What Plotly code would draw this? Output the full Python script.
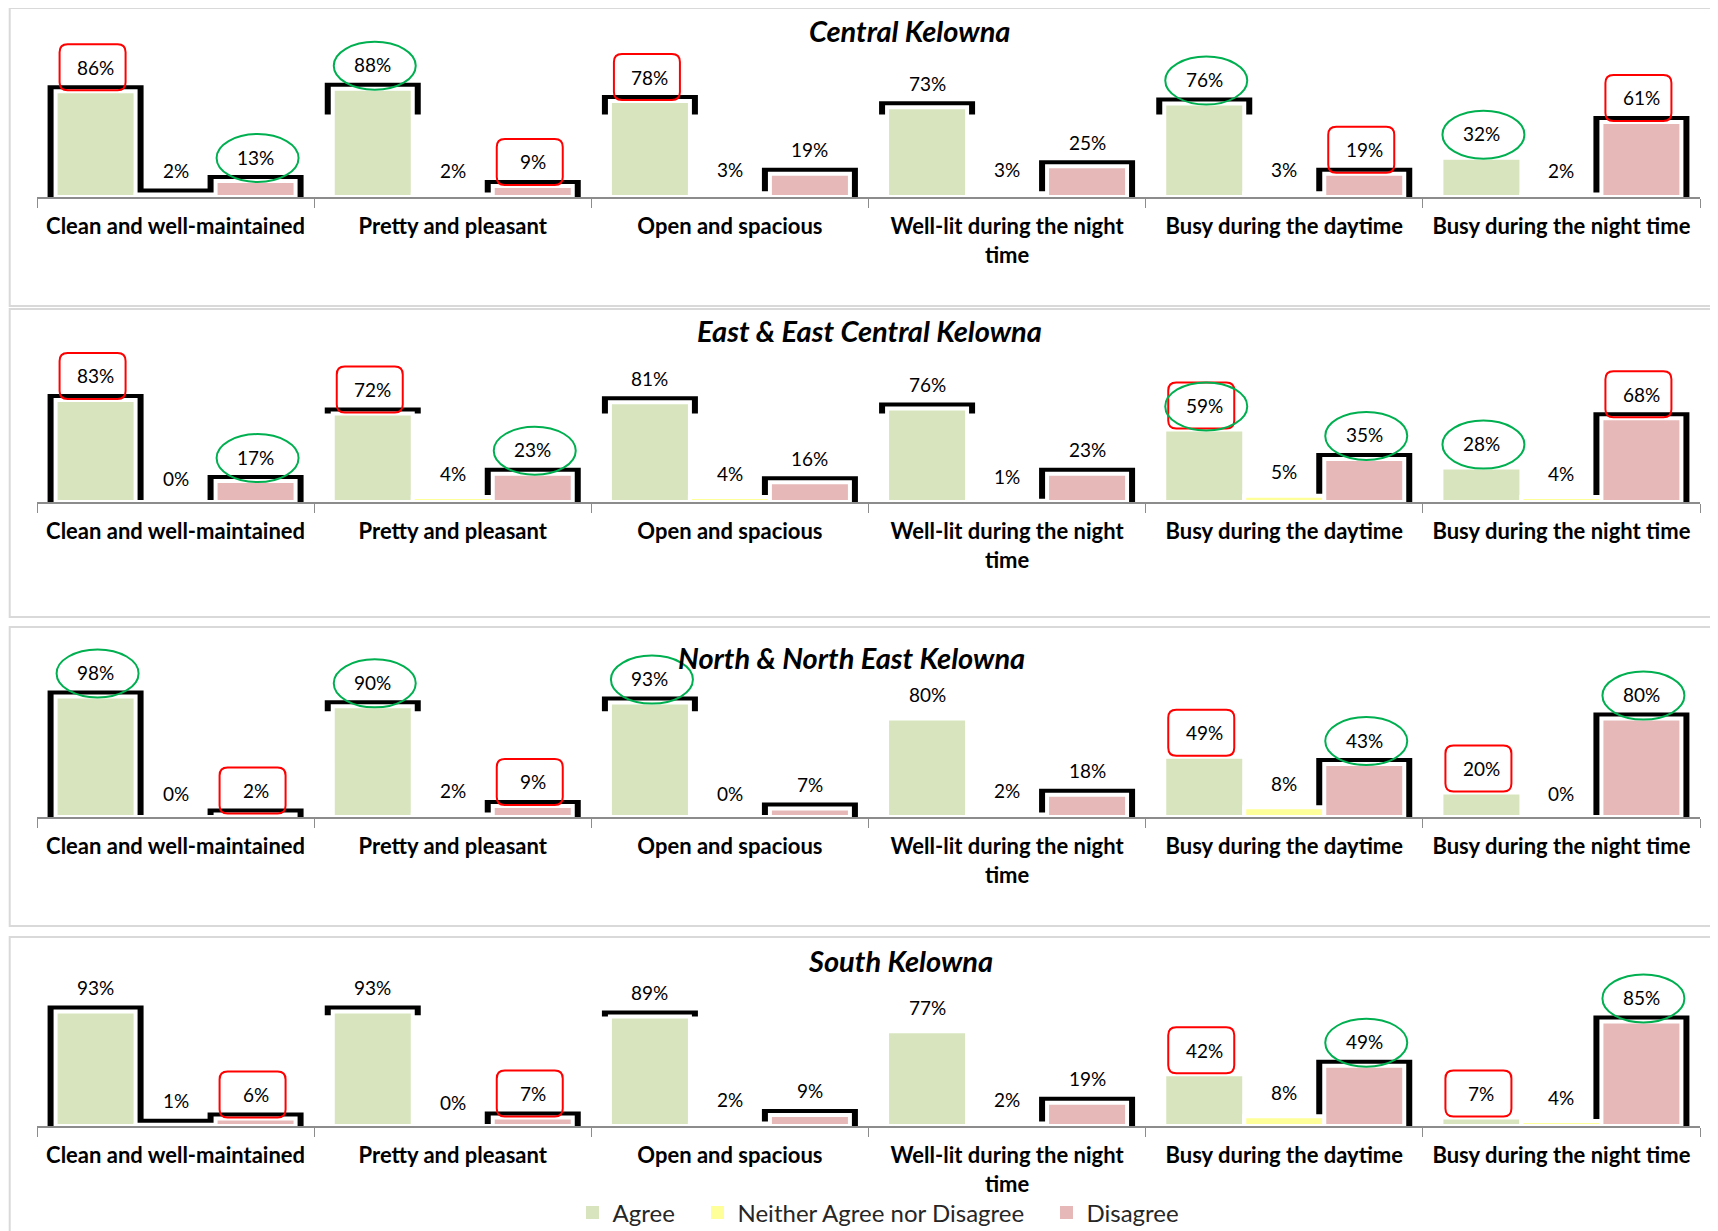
import plotly.graph_objects as go

# ---------------- data ----------------
categories = ["Clean and well-maintained", "Pretty and pleasant", "Open and spacious",
              "Well-lit during the night time", "Busy during the daytime", "Busy during the night time"]
tick_labels = ["Clean and well-maintained", "Pretty and pleasant", "Open and spacious",
               "Well-lit during the night<br>time", "Busy during the daytime", "Busy during the night time"]
regions = ["Central Kelowna", "East & East Central Kelowna", "North & North East Kelowna", "South Kelowna"]
series_names = ["Agree", "Neither Agree nor Disagree", "Disagree"]

central_agree = [86, 88, 78, 73, 76, 32]
central_neither = [2, 2, 3, 3, 3, 2]
central_disagree = [13, 9, 19, 25, 19, 61]

east_agree = [83, 72, 81, 76, 59, 28]
east_neither = [0, 4, 4, 1, 5, 4]
east_disagree = [17, 23, 16, 23, 35, 68]

north_agree = [98, 90, 93, 80, 49, 20]
north_neither = [0, 2, 0, 2, 8, 0]
north_disagree = [2, 9, 7, 18, 43, 80]

south_agree = [93, 93, 89, 77, 42, 7]
south_neither = [1, 0, 2, 2, 8, 4]
south_disagree = [6, 7, 9, 19, 49, 85]

panel_values = [
    [central_agree, central_neither, central_disagree],
    [east_agree, east_neither, east_disagree],
    [north_agree, north_neither, north_disagree],
    [south_agree, south_neither, south_disagree],
]

# hand-drawn highlight marks on the labels: R = red box, E = green ellipse
central_marks = [["R", "E", "R", "", "E", "E"], ["", "", "", "", "", ""], ["E", "R", "", "", "R", "R"]]
east_marks = [["R", "R", "", "", "RE", "E"], ["", "", "", "", "", ""], ["E", "E", "", "", "E", "R"]]
north_marks = [["E", "E", "E", "", "R", "R"], ["", "", "", "", "", ""], ["R", "R", "", "", "E", "E"]]
south_marks = [["", "", "", "", "R", "R"], ["", "", "", "", "", ""], ["R", "R", "", "", "E", "E"]]
panel_marks = [central_marks, east_marks, north_marks, south_marks]

# black frame artefacts around bars: F = full, C = top cap, N = none
central_frames = [["F", "C", "C", "C", "C", "N"], ["F", "N", "N", "N", "N", "N"], ["F", "F", "F", "F", "F", "F"]]
east_frames = [["F", "C", "C", "C", "N", "N"], ["N", "N", "N", "N", "N", "N"], ["F", "F", "F", "F", "F", "F"]]
north_frames = [["F", "C", "C", "N", "N", "N"], ["N", "N", "N", "N", "N", "N"], ["F", "F", "F", "F", "F", "F"]]
south_frames = [["F", "C", "C", "N", "N", "N"], ["F", "N", "N", "N", "N", "N"], ["F", "F", "F", "F", "F", "F"]]
panel_frames = [central_frames, east_frames, north_frames, south_frames]
cap_bottoms = [0.67, 0.72, 0.86, 0.90]

# ---------------- styling / geometry ----------------
OFF = 8                      # page body margin
W, H = 1718 - OFF, 1231 - OFF
colors = ["#d7e4bd", "#ffff99", "#e6b9b8"]
FONT = "Lato"
baselines = [197, 502, 817, 1126]
PX_PER_UNIT = 123.0
YMAX = 1.5
title_pos = [(909, 31), (869, 330), (851, 657), (900, 960)]
panel_boxes = [(8, 306), (309, 617), (627, 926), (937, 1245)]
x_left, x_right = 37, 1700
cat_px = (x_right - x_left) / len(categories)
bar_px = 80.0
bw = bar_px / cat_px              # bar width in category units
frame_w = (bar_px + 16) / cat_px  # frame width in category units
pad = 6 / PX_PER_UNIT             # frame top above bar
label_shift = 24
legend_entry_widths = [80, 304, 92]


def px_x(p):
    return (p - OFF) / W


def px_y(p):
    return 1 - (p - OFF) / H


fig = go.Figure()
annotations = []
shapes = []
layout_axes = {}

for p in range(4):
    sfx = "" if p == 0 else str(p + 1)
    xa, ya = "x" + sfx, "y" + sfx
    vals = panel_values[p]

    # frames first (drawn behind)
    for k in range(3):
        center = (k - 1) * bw
        heights, bases = [], []
        for j, v in enumerate(vals[k]):
            f = panel_frames[p][k][j]
            top = v / 100 + pad
            if f == "F":
                bases.append(0)
                heights.append(top)
            elif f == "C":
                b = min(cap_bottoms[p], v / 100)
                bases.append(b)
                heights.append(top - b)
            else:
                bases.append(0)
                heights.append(None)
        fig.add_trace(go.Bar(
            x=tick_labels, y=heights, base=bases, width=frame_w, offset=center - frame_w / 2,
            marker=dict(color="black", line=dict(width=0)), showlegend=False, hoverinfo="skip",
            xaxis=xa, yaxis=ya))

    for k in range(3):
        center = (k - 1) * bw
        fig.add_trace(go.Bar(
            x=tick_labels, y=[v / 100 for v in vals[k]], width=bw, offset=center - bw / 2,
            name=series_names[k], showlegend=False,
            marker=dict(color=colors[k], line=dict(color="white", width=4)),
            xaxis=xa, yaxis=ya))
        for j, v in enumerate(vals[k]):
            xpos = j + center
            annotations.append(dict(
                x=xpos, y=v / 100, xref=xa, yref=ya, yshift=label_shift, text=f"{v}%",
                showarrow=False, font=dict(family=FONT, size=19, color="black"),
                xanchor="center", yanchor="middle"))
            m = panel_marks[p][k][j]
            if "R" in m:
                x0, x1, y0, y1, r = -36, 30, label_shift - 23, label_shift + 23, 8
                path = (f"M{x0 + r},{y0} L{x1 - r},{y0} Q{x1},{y0} {x1},{y0 + r} "
                        f"L{x1},{y1 - r} Q{x1},{y1} {x1 - r},{y1} L{x0 + r},{y1} "
                        f"Q{x0},{y1} {x0},{y1 - r} L{x0},{y0 + r} Q{x0},{y0} {x0 + r},{y0} Z")
                shapes.append(dict(type="path", path=path, xref=xa, yref=ya,
                                   xsizemode="pixel", ysizemode="pixel", xanchor=xpos, yanchor=v / 100,
                                   line=dict(color="#ff0000", width=2), layer="above"))
            if "E" in m:
                shapes.append(dict(type="circle", xref=xa, yref=ya,
                                   xsizemode="pixel", ysizemode="pixel", xanchor=xpos, yanchor=v / 100,
                                   x0=-39, x1=43, y0=label_shift - 25, y1=label_shift + 23,
                                   line=dict(color="#00b050", width=2), layer="above"))

    b = baselines[p]
    layout_axes["xaxis" + sfx] = dict(
        domain=[px_x(x_left), px_x(x_right)], anchor=ya, type="category",
        showline=True, linecolor="#8c8c8c", linewidth=2,
        ticks="outside", tickson="boundaries", ticklen=9, tickcolor="#8c8c8c", tickwidth=1,
        ticklabelstandoff=9, showgrid=False, zeroline=False, fixedrange=True, automargin=False,
        tickfont=dict(family=FONT, size=22, color="black", weight="bold"))
    layout_axes["yaxis" + sfx] = dict(
        domain=[px_y(b), px_y(b - YMAX * PX_PER_UNIT)], anchor=xa, range=[0, YMAX],
        showticklabels=False, showgrid=False, zeroline=False, showline=False, ticks="",
        automargin=False)

    tx, ty = title_pos[p]
    annotations.append(dict(x=px_x(tx), y=px_y(ty), xref="paper", yref="paper",
                            text=f"<b><i>{regions[p]}</i></b>", showarrow=False,
                            font=dict(family=FONT, size=29, color="black"),
                            xanchor="center", yanchor="middle"))
    y_top, y_bot = panel_boxes[p]
    shapes.append(dict(type="rect", xref="paper", yref="paper", x0=0.001, x1=1.05,
                       y0=px_y(y_bot), y1=px_y(y_top),
                       line=dict(color="#d9d9d9", width=2), fillcolor="rgba(0,0,0,0)", layer="below"))

# legend entries
for k in range(3):
    fig.add_trace(go.Scatter(x=[None], y=[None], mode="markers", name=series_names[k],
                             legendwidth=legend_entry_widths[k],
                             marker=dict(symbol="square", size=13, color=colors[k]),
                             showlegend=True, hoverinfo="skip", xaxis="x", yaxis="y"))

fig.update_layout(
    width=W, height=H, margin=dict(l=0, r=0, t=0, b=0, autoexpand=False),
    paper_bgcolor="white", plot_bgcolor="rgba(0,0,0,0)",
    barmode="overlay", annotations=annotations, shapes=shapes,
    legend=dict(orientation="h", x=px_x(878), xanchor="center", y=px_y(1213), yanchor="middle",
                font=dict(family=FONT, size=24, color="#262626"), bgcolor="rgba(0,0,0,0)",
                itemwidth=30, traceorder="normal"),
    font=dict(family=FONT),
    **layout_axes)

fig.write_html("out.html")
